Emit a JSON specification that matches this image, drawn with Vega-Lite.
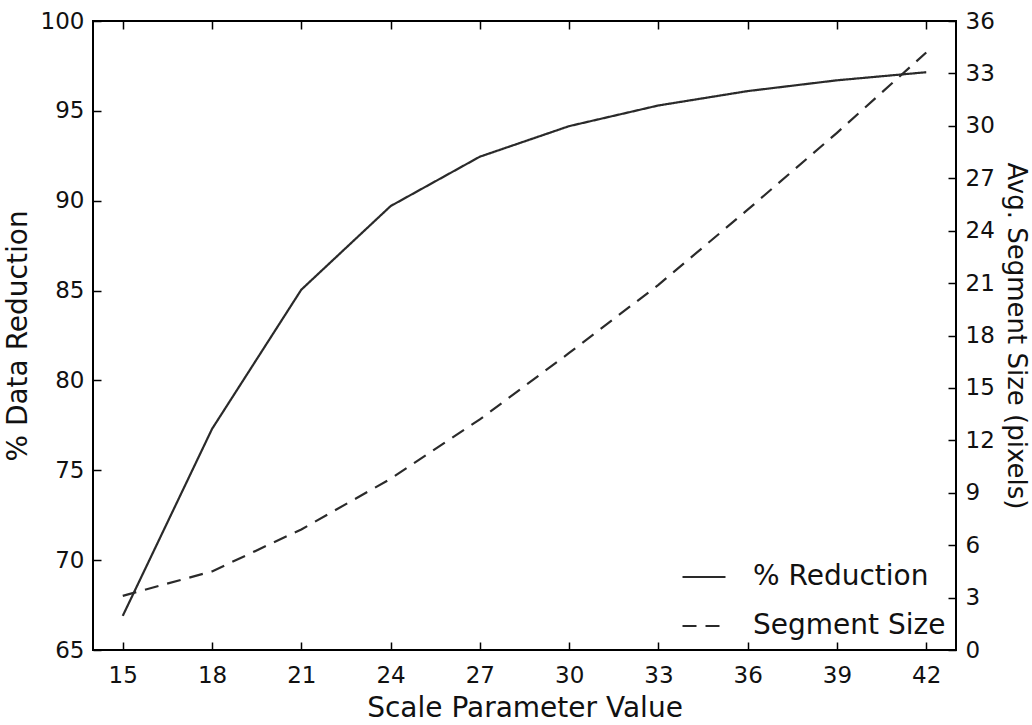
{
  "$schema": "https://vega.github.io/schema/vega-lite/v6.json",
  "width": 863,
  "height": 629,
  "autosize": "none",
  "padding": {"left": 93, "top": 21, "right": 76, "bottom": 75},
  "background": "white",
  "config": {
    "font": "DejaVu Sans",
    "view": {"stroke": "black", "strokeWidth": 2},
    "axis": {
      "domain": false,
      "grid": false,
      "tickColor": "black",
      "tickWidth": 1.5,
      "tickSize": -8,
      "labelFontSize": 23,
      "labelColor": "#111",
      "titleFontSize": 28,
      "titleFontWeight": "normal",
      "titleColor": "#111"
    },
    "legend": {
      "labelFontSize": 28,
      "labelColor": "#111",
      "labelLimit": 0
    }
  },
  "data": {
    "values": [
      {"scale": 15, "reduction": 66.9, "segment": 3.1},
      {"scale": 18, "reduction": 77.3, "segment": 4.5},
      {"scale": 21, "reduction": 85.05, "segment": 6.9},
      {"scale": 24, "reduction": 89.7, "segment": 9.8},
      {"scale": 27, "reduction": 92.45, "segment": 13.2},
      {"scale": 30, "reduction": 94.15, "segment": 17.0},
      {"scale": 33, "reduction": 95.3, "segment": 20.9},
      {"scale": 36, "reduction": 96.1, "segment": 25.2},
      {"scale": 39, "reduction": 96.7, "segment": 29.6},
      {"scale": 42, "reduction": 97.15, "segment": 34.2}
    ]
  },
  "layer": [
    {
      "mark": {"type": "line", "color": "#2a2a2a", "strokeWidth": 2.2},
      "encoding": {
        "x": {
          "field": "scale", "type": "quantitative",
          "scale": {"domain": [14, 43], "nice": false, "zero": false},
          "axis": {"orient": "bottom", "title": "Scale Parameter Value", "values": [15, 18, 21, 24, 27, 30, 33, 36, 39, 42], "labelPadding": 22, "titlePadding": 7}
        },
        "y": {
          "field": "reduction", "type": "quantitative",
          "scale": {"domain": [65, 100], "nice": false, "zero": false},
          "axis": {"orient": "left", "title": "% Data Reduction", "values": [65, 70, 75, 80, 85, 90, 95, 100], "labelPadding": 17, "titlePadding": 8}
        },
        "strokeDash": {
          "datum": "% Reduction", "type": "nominal",
          "scale": {"domain": ["% Reduction", "Segment Size"], "range": [[1, 0], [14, 9]]},
          "legend": {
            "title": null,
            "orient": "bottom-right",
            "offset": 10,
            "symbolType": "stroke",
            "symbolSize": 1849,
            "symbolStrokeWidth": 2.2,
            "symbolStrokeColor": "#2a2a2a",
            "labelOffset": 26,
            "rowPadding": 12
          }
        }
      }
    },
    {
      "mark": {"type": "line", "color": "#2a2a2a", "strokeWidth": 2.2},
      "encoding": {
        "x": {
          "field": "scale", "type": "quantitative",
          "scale": {"domain": [14, 43], "nice": false, "zero": false},
          "axis": {"orient": "top", "title": null, "labels": false, "values": [15, 18, 21, 24, 27, 30, 33, 36, 39, 42]}
        },
        "y": {
          "field": "segment", "type": "quantitative",
          "scale": {"domain": [0, 36], "nice": false, "zero": false},
          "axis": {"orient": "right", "title": "Avg. Segment Size (pixels)", "titleFontSize": 26, "values": [0, 3, 6, 9, 12, 15, 18, 21, 24, 27, 30, 33, 36], "labelPadding": 17, "titlePadding": 8}
        },
        "strokeDash": {"datum": "Segment Size", "type": "nominal"}
      }
    }
  ],
  "resolve": {"scale": {"y": "independent"}, "axis": {"x": "independent"}}
}
